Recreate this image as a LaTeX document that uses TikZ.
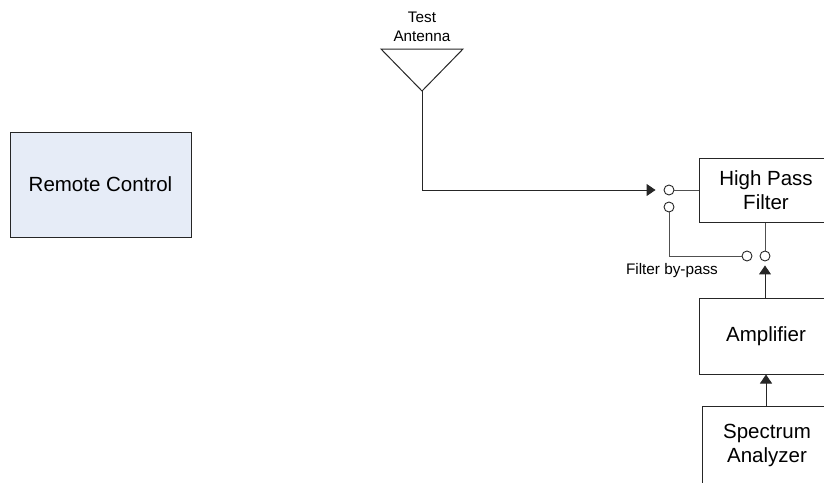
\documentclass[tikz,border=0pt]{standalone}
\usepackage{fontspec}
\setmainfont{Liberation Sans}
\usetikzlibrary{arrows.meta}
\definecolor{rcfill}{RGB}{230,236,247}
\definecolor{wire}{RGB}{80,80,80}
\tikzset{
  blockbox/.style={draw=black!85, line width=1pt, rectangle, inner sep=0pt, align=center,
    font=\fontsize{20.5}{24}\selectfont},
  smalltext/.style={inner sep=0pt, align=center, font=\fontsize{15.3}{19.5}\selectfont},
  port/.style={draw=black!85, circle, minimum size=10pt, inner sep=0pt, line width=0.9pt, fill=white},
  wireline/.style={draw=wire, line width=1pt},
  arrowline/.style={draw=black!85, line width=1pt, -{Triangle[length=9pt,width=12pt]}}
}
\begin{document}
\begin{tikzpicture}[x=1pt,y=-1pt]
\useasboundingbox (0,0) rectangle (824,482);
\clip (0,0) rectangle (824,482);
% blocks
\node[blockbox, fill=rcfill, minimum width=181pt, minimum height=105pt] (rc) at (100.5,184.5) {Remote Control};
\node[blockbox, minimum width=134pt, minimum height=64pt] (hpf) at (766,190) {High Pass\\Filter};
\node[blockbox, minimum width=134pt, minimum height=76pt] (amp) at (766,336) {Amplifier};
\node[blockbox, minimum width=130pt, minimum height=78pt] (sa) at (767,445) {Spectrum\\Analyzer};
% antenna
\node[smalltext] (antlabel) at (422,27) {Test\\Antenna};
\coordinate (ant) at (422,91);
\draw[draw=black!85, line width=1pt, line join=miter] (381,49) -- (463,49) -- (ant) -- cycle;
% switch ports
\node[port] (s1) at (669,190) {};
\node[port] (s2) at (669,207) {};
\node[port] (s3) at (747,256) {};
\node[port] (s4) at (765,256) {};
\node[smalltext] (bypass) at (672,271) {Filter by-pass};
% connectors
\draw[wireline, arrowline, shorten >=8pt] (ant) |- (s1.west);
\draw[wireline] (s1.east) -- (hpf.west |- s1.east);
\draw[wireline] (s2.south) |- (s3.west);
\draw[wireline] (hpf.south -| s4.north) -- (s4.north);
\draw[arrowline, shorten >=4pt] (amp.north -| s4.south) -- (s4.south);
\draw[arrowline] (sa.north -| amp.south) -- (amp.south);
\end{tikzpicture}
\end{document}
